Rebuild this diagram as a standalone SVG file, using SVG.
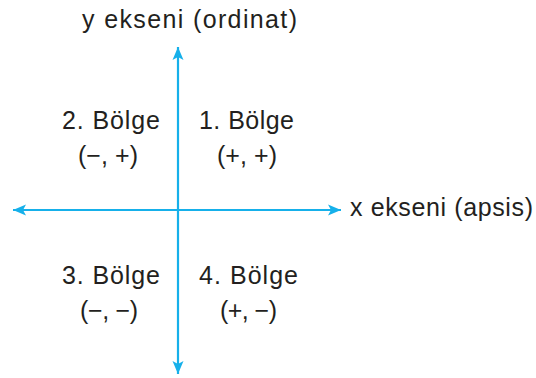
<svg xmlns="http://www.w3.org/2000/svg" width="536" height="378" viewBox="0 0 536 378">
  <style>
    .axis { stroke: #16b0ea; stroke-width: 2.2; fill: none; }
    .lbl { font-family: "Liberation Sans", Arial, sans-serif; font-size: 25px; fill: #231f20; }
  </style>
  <defs>
    <marker id="arr" markerUnits="userSpaceOnUse" markerWidth="14" markerHeight="12" viewBox="0 -6 14 12" refX="13" refY="0" orient="auto-start-reverse">
      <path d="M13,0 L0,-5.5 L3,0 L0,5.5 Z" fill="#16b0ea"/>
    </marker>
  </defs>
  <rect width="536" height="378" fill="#ffffff"/>
  <g id="connectors">
    <line class="axis" x1="13" y1="210" x2="341" y2="210" marker-start="url(#arr)" marker-end="url(#arr)"/>
    <line class="axis" x1="178" y1="47" x2="178" y2="374" marker-start="url(#arr)" marker-end="url(#arr)"/>
  </g>
  <g id="y-axis-label">
    <text class="lbl" x="82" y="28" textLength="215" lengthAdjust="spacing">y ekseni (ordinat)</text>
  </g>
  <g id="x-axis-label">
    <text class="lbl" x="350" y="216" textLength="183" lengthAdjust="spacing">x ekseni (apsis)</text>
  </g>
  <g id="q2">
    <text class="lbl" x="62" y="129" textLength="98" lengthAdjust="spacing">2. Bölge</text>
    <text class="lbl" x="78" y="164" textLength="60" lengthAdjust="spacing">(−, +)</text>
  </g>
  <g id="q1">
    <text class="lbl" x="199" y="129" textLength="95" lengthAdjust="spacing">1. Bölge</text>
    <text class="lbl" x="217" y="164" textLength="60" lengthAdjust="spacing">(+, +)</text>
  </g>
  <g id="q3">
    <text class="lbl" x="62" y="284" textLength="98" lengthAdjust="spacing">3. Bölge</text>
    <text class="lbl" x="80" y="319" textLength="58" lengthAdjust="spacing">(−, −)</text>
  </g>
  <g id="q4">
    <text class="lbl" x="199" y="284" textLength="99" lengthAdjust="spacing">4. Bölge</text>
    <text class="lbl" x="220" y="319" textLength="57" lengthAdjust="spacing">(+, −)</text>
  </g>
</svg>
